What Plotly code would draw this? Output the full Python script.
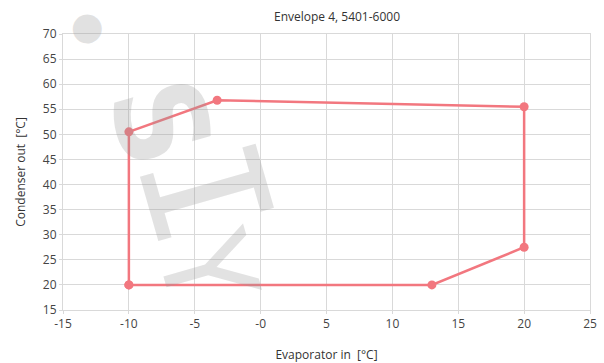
import plotly.graph_objects as go

# Operating envelope corner points (closed polygon)
evap_in = [-10, -10, -3.3, 20, 20, 13, -10]
cond_out = [20, 50.5, 56.8, 55.5, 27.5, 20, 20]

x_ticks = [-15, -10, -5, 0, 5, 10, 15, 20, 25]
x_tick_text = ["-15", "-10", "-5", "-0", "5", "10", "15", "20", "25"]
y_ticks = [15, 20, 25, 30, 35, 40, 45, 50, 55, 60, 65, 70]

FONT = "Open Sans"
GRID = "#d9d9d9"
LINE = "#f2777f"
MARK = "rgba(150,150,150,0.28)"

fig = go.Figure()
fig.add_trace(go.Scatter(
    x=evap_in, y=cond_out, mode="lines+markers",
    line=dict(color=LINE, width=2.5),
    marker=dict(color=LINE, size=9),
    hoverinfo="x+y", showlegend=False,
))

# Faint logo watermark, one glyph per annotation (paper coords)
logo = [
    ("●", 0.051, 1.02, "DejaVu Sans", "normal", 38),
    ("S", 0.185, 0.68, "DejaVu Sans Condensed", "bold", 125),
    ("I", 0.268, 0.425, "DejaVu Sans Mono", "normal", 165),
    ("Y", 0.272, 0.145, "DejaVu Sans Condensed", "normal", 125),
]
for ch, lx, ly, fam, wt, sz in logo:
    fig.add_annotation(
        text=ch, x=lx, y=ly, xref="paper", yref="paper",
        xanchor="center", yanchor="middle", showarrow=False, textangle=74,
        font=dict(family=fam, size=sz, color=MARK, weight=wt),
    )

fig.update_layout(
    width=604, height=363,
    margin=dict(l=63, r=14, t=34, b=53),
    paper_bgcolor="white", plot_bgcolor="white",
    font=dict(family=FONT, size=12, color="#444"),
    title=dict(text="Envelope 4, 5401-6000", x=0.558, xref="container", xanchor="center",
               y=1 - 17 / 363, yref="container", yanchor="middle",
               font=dict(family=FONT, size=12, color="#333")),
)
fig.update_xaxes(
    range=[-15, 25], tickvals=x_ticks, ticktext=x_tick_text, automargin=False,
    showgrid=True, gridcolor=GRID, gridwidth=1, zeroline=False,
    showline=True, linecolor=GRID, mirror=True,
    ticks="outside", ticklen=3, tickcolor=GRID,
    title=dict(text="Evaporator in  [°C]", standoff=20, font=dict(size=12, color="#333")),
    tickfont=dict(size=12, color="#444"),
)
fig.update_yaxes(
    range=[15, 70], tickvals=y_ticks, automargin=False,
    showgrid=True, gridcolor=GRID, gridwidth=1, zeroline=False,
    showline=True, linecolor=GRID, mirror=True,
    ticks="outside", ticklen=3, tickcolor=GRID,
    title=dict(text="Condenser out  [°C]", standoff=14, font=dict(size=12, color="#333")),
    tickfont=dict(size=12, color="#444"),
)

fig.write_html("out.html")
